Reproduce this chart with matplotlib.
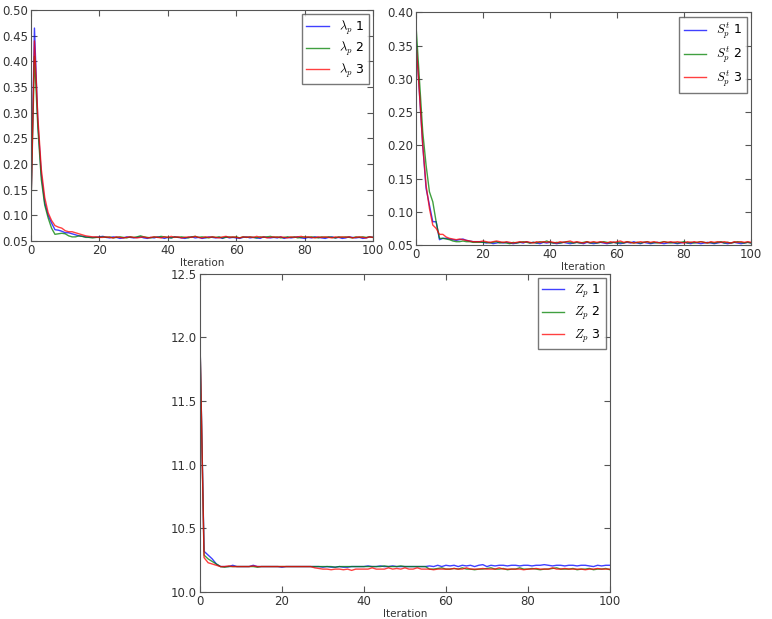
import matplotlib
matplotlib.use('Agg')
from matplotlib import pyplot as plt
import numpy as np

plt.rcParams['mathtext.fontset'] = 'cm'
plt.rcParams['font.family'] = 'DejaVu Sans'

iterations = list(range(101))

# lambda_p
lam_1 = [0.120, 0.465, 0.280, 0.180, 0.125, 0.100, 0.085, 0.072, 0.071, 0.069, 0.066,
         0.066, 0.064, 0.062, 0.060, 0.059, 0.058, 0.057, 0.057, 0.057, 0.058,
         0.059, 0.057, 0.056, 0.058, 0.057, 0.055, 0.056, 0.058, 0.057, 0.056,
         0.057, 0.058, 0.056, 0.055, 0.057, 0.056, 0.058, 0.057, 0.055, 0.057,
         0.056, 0.058, 0.057, 0.056, 0.055, 0.057, 0.058, 0.056, 0.057, 0.055,
         0.056, 0.058, 0.057, 0.056, 0.057, 0.055, 0.058, 0.056, 0.057, 0.056,
         0.055, 0.057, 0.058, 0.056, 0.057, 0.056, 0.055, 0.058, 0.057, 0.056,
         0.057, 0.056, 0.058, 0.055, 0.057, 0.056, 0.057, 0.058, 0.056, 0.055,
         0.057, 0.056, 0.058, 0.057, 0.056, 0.055, 0.057, 0.058, 0.056, 0.057,
         0.055, 0.056, 0.058, 0.057, 0.056, 0.057, 0.055, 0.056, 0.058, 0.057]
lam_2 = [0.120, 0.410, 0.270, 0.170, 0.120, 0.095, 0.075, 0.063, 0.064, 0.065, 0.064,
         0.060, 0.058, 0.058, 0.060, 0.059, 0.057, 0.057, 0.056, 0.057, 0.057,
         0.058, 0.057, 0.058, 0.056, 0.057, 0.058, 0.057, 0.056, 0.058, 0.057,
         0.058, 0.060, 0.058, 0.057, 0.056, 0.058, 0.057, 0.059, 0.058, 0.057,
         0.056, 0.058, 0.057, 0.058, 0.057, 0.056, 0.058, 0.059, 0.057, 0.058,
         0.057, 0.056, 0.058, 0.057, 0.058, 0.056, 0.057, 0.058, 0.057, 0.058,
         0.056, 0.058, 0.057, 0.058, 0.057, 0.056, 0.058, 0.057, 0.058, 0.059,
         0.057, 0.058, 0.056, 0.057, 0.058, 0.057, 0.058, 0.056, 0.057, 0.058,
         0.057, 0.058, 0.057, 0.056, 0.058, 0.057, 0.058, 0.057, 0.056, 0.058,
         0.057, 0.058, 0.057, 0.056, 0.058, 0.057, 0.058, 0.057, 0.058, 0.057]
lam_3 = [0.120, 0.440, 0.290, 0.190, 0.135, 0.105, 0.090, 0.080, 0.077, 0.075, 0.070,
         0.068, 0.068, 0.066, 0.064, 0.062, 0.060, 0.059, 0.058, 0.058, 0.057,
         0.057, 0.058, 0.057, 0.056, 0.058, 0.057, 0.056, 0.057, 0.058, 0.057,
         0.056, 0.057, 0.058, 0.056, 0.057, 0.058, 0.057, 0.056, 0.058, 0.057,
         0.059, 0.057, 0.058, 0.056, 0.057, 0.058, 0.057, 0.059, 0.057, 0.056,
         0.058, 0.057, 0.058, 0.057, 0.056, 0.058, 0.059, 0.057, 0.058, 0.057,
         0.056, 0.058, 0.057, 0.058, 0.057, 0.059, 0.057, 0.058, 0.056, 0.057,
         0.058, 0.057, 0.058, 0.057, 0.056, 0.058, 0.057, 0.058, 0.059, 0.057,
         0.058, 0.057, 0.056, 0.058, 0.057, 0.058, 0.057, 0.056, 0.058, 0.057,
         0.058, 0.057, 0.058, 0.056, 0.057, 0.058, 0.057, 0.056, 0.058, 0.057]

# S_p^t
s_1 = [0.360, 0.280, 0.200, 0.135, 0.110, 0.085, 0.085, 0.058, 0.060, 0.060, 0.059,
       0.058, 0.057, 0.058, 0.059, 0.057, 0.056, 0.055, 0.055, 0.055, 0.054,
       0.053, 0.054, 0.052, 0.053, 0.054, 0.053, 0.054, 0.053, 0.052, 0.053,
       0.054, 0.053, 0.055, 0.053, 0.054, 0.053, 0.052, 0.054, 0.053, 0.054,
       0.053, 0.052, 0.053, 0.054, 0.053, 0.052, 0.053, 0.054, 0.053, 0.052,
       0.054, 0.053, 0.052, 0.053, 0.054, 0.053, 0.052, 0.053, 0.054, 0.053,
       0.052, 0.053, 0.054, 0.053, 0.055, 0.053, 0.052, 0.054, 0.053, 0.052,
       0.053, 0.054, 0.053, 0.052, 0.053, 0.054, 0.053, 0.052, 0.053, 0.054,
       0.053, 0.052, 0.054, 0.053, 0.052, 0.053, 0.054, 0.053, 0.052, 0.053,
       0.054, 0.053, 0.052, 0.053, 0.054, 0.053, 0.052, 0.053, 0.054, 0.053]
s_2 = [0.380, 0.300, 0.220, 0.170, 0.130, 0.115, 0.085, 0.060, 0.060, 0.059, 0.058,
       0.056, 0.055, 0.055, 0.056, 0.055, 0.055, 0.054, 0.054, 0.054, 0.054,
       0.054, 0.053, 0.054, 0.055, 0.053, 0.054, 0.053, 0.052, 0.054, 0.053,
       0.054, 0.055, 0.054, 0.053, 0.054, 0.053, 0.055, 0.054, 0.056, 0.054,
       0.053, 0.054, 0.053, 0.054, 0.055, 0.054, 0.053, 0.054, 0.053, 0.054,
       0.055, 0.053, 0.054, 0.053, 0.054, 0.055, 0.054, 0.053, 0.054, 0.053,
       0.054, 0.053, 0.055, 0.054, 0.053, 0.054, 0.053, 0.054, 0.055, 0.053,
       0.054, 0.053, 0.054, 0.055, 0.054, 0.053, 0.054, 0.053, 0.054, 0.055,
       0.053, 0.054, 0.053, 0.054, 0.055, 0.054, 0.053, 0.054, 0.053, 0.054,
       0.055, 0.053, 0.054, 0.053, 0.054, 0.055, 0.054, 0.053, 0.054, 0.053]
s_3 = [0.355, 0.280, 0.200, 0.140, 0.105, 0.080, 0.075, 0.066, 0.066, 0.062, 0.060,
       0.059, 0.058, 0.059, 0.058, 0.057, 0.056, 0.055, 0.055, 0.055, 0.056,
       0.055, 0.054, 0.055, 0.056, 0.055, 0.054, 0.055, 0.054, 0.053, 0.054,
       0.055, 0.054, 0.055, 0.054, 0.053, 0.055, 0.054, 0.055, 0.054, 0.055,
       0.054, 0.053, 0.055, 0.054, 0.055, 0.056, 0.054, 0.055, 0.054, 0.053,
       0.055, 0.054, 0.055, 0.054, 0.055, 0.054, 0.053, 0.055, 0.054, 0.055,
       0.056, 0.054, 0.055, 0.054, 0.053, 0.054, 0.055, 0.054, 0.055, 0.054,
       0.055, 0.054, 0.053, 0.055, 0.054, 0.055, 0.054, 0.055, 0.054, 0.053,
       0.055, 0.054, 0.055, 0.054, 0.055, 0.054, 0.053, 0.055, 0.054, 0.055,
       0.054, 0.055, 0.054, 0.053, 0.055, 0.054, 0.055, 0.054, 0.055, 0.054]

# Z_p
z_1 = [12.00, 10.32, 10.29, 10.26, 10.22, 10.20, 10.20, 10.20, 10.21, 10.20, 10.20,
       10.20, 10.20, 10.21, 10.20, 10.20, 10.20, 10.20, 10.20, 10.20, 10.195,
       10.20, 10.20, 10.20, 10.20, 10.20, 10.20, 10.20, 10.20, 10.20, 10.195,
       10.20, 10.195, 10.195, 10.20, 10.195, 10.195, 10.20, 10.20, 10.20, 10.20,
       10.205, 10.20, 10.20, 10.205, 10.20, 10.20, 10.205, 10.20, 10.20, 10.20,
       10.20, 10.20, 10.20, 10.20, 10.20, 10.205, 10.20, 10.21, 10.20, 10.21,
       10.205, 10.21, 10.20, 10.21, 10.205, 10.21, 10.20, 10.21, 10.215, 10.20,
       10.21, 10.205, 10.21, 10.21, 10.205, 10.21, 10.21, 10.205, 10.21, 10.21,
       10.205, 10.21, 10.21, 10.215, 10.21, 10.205, 10.21, 10.21, 10.205, 10.21,
       10.21, 10.205, 10.21, 10.21, 10.205, 10.20, 10.21, 10.205, 10.21, 10.21]
z_2 = [12.00, 10.29, 10.26, 10.24, 10.22, 10.20, 10.195, 10.20, 10.20, 10.20, 10.20,
       10.20, 10.20, 10.20, 10.195, 10.20, 10.20, 10.20, 10.20, 10.20, 10.20,
       10.20, 10.20, 10.20, 10.20, 10.20, 10.20, 10.20, 10.20, 10.20, 10.20,
       10.20, 10.20, 10.195, 10.20, 10.20, 10.20, 10.20, 10.20, 10.20, 10.20,
       10.20, 10.20, 10.20, 10.20, 10.205, 10.20, 10.20, 10.20, 10.205, 10.20,
       10.20, 10.20, 10.20, 10.20, 10.20, 10.18, 10.18, 10.185, 10.19, 10.18,
       10.18, 10.185, 10.18, 10.19, 10.18, 10.18, 10.175, 10.18, 10.18, 10.185,
       10.19, 10.18, 10.18, 10.185, 10.175, 10.18, 10.18, 10.19, 10.18, 10.18,
       10.185, 10.18, 10.175, 10.18, 10.18, 10.185, 10.19, 10.18, 10.18, 10.18,
       10.185, 10.175, 10.18, 10.18, 10.185, 10.175, 10.18, 10.18, 10.185, 10.175]
z_3 = [12.00, 10.27, 10.23, 10.22, 10.21, 10.20, 10.20, 10.205, 10.20, 10.20, 10.20,
       10.20, 10.20, 10.205, 10.20, 10.20, 10.20, 10.20, 10.20, 10.20, 10.20,
       10.20, 10.20, 10.20, 10.20, 10.20, 10.20, 10.20, 10.19, 10.185, 10.18,
       10.18, 10.175, 10.18, 10.18, 10.175, 10.18, 10.17, 10.18, 10.18, 10.18,
       10.18, 10.19, 10.18, 10.18, 10.18, 10.19, 10.18, 10.185, 10.18, 10.19,
       10.18, 10.18, 10.19, 10.18, 10.18, 10.18, 10.175, 10.18, 10.18, 10.18,
       10.18, 10.185, 10.18, 10.18, 10.19, 10.18, 10.18, 10.18, 10.185, 10.18,
       10.18, 10.18, 10.19, 10.18, 10.18, 10.18, 10.18, 10.18, 10.175, 10.18,
       10.18, 10.185, 10.18, 10.18, 10.18, 10.19, 10.18, 10.18, 10.185, 10.18,
       10.18, 10.18, 10.18, 10.175, 10.18, 10.18, 10.185, 10.18, 10.18, 10.18]

colors = ['#0000ff', '#008000', '#ff0000']
panels = [
    ([lam_1, lam_2, lam_3], r'$\lambda_p$', [0.0402, 0.6107, 0.443, 0.373], (0.05, 0.50),
     np.arange(0.05, 0.501, 0.05), '%.2f', 0.28),
    ([s_1, s_2, s_3], r'$S_p^t$', [0.5389, 0.6042, 0.434, 0.376], (0.05, 0.40),
     np.arange(0.05, 0.401, 0.05), '%.2f', 0.3),
    ([z_1, z_2, z_3], r'$Z_p$', [0.259, 0.0436, 0.531, 0.514], (10.0, 12.5),
     np.arange(10.0, 12.51, 0.5), '%.1f', 0.45),
]

fig = plt.figure(figsize=(7.72, 6.19), dpi=100)
for series, name, rect, ylim, yticks, fmt, spacing in panels:
    ax = fig.add_axes(rect)
    for i, ys in enumerate(series):
        assert len(ys) == len(iterations)
        ax.plot(iterations, ys, color=colors[i], lw=1.0, alpha=0.75, label=name + ' ' + str(i + 1))
    ax.set_xlim(0, 100)
    ax.set_ylim(*ylim)
    ax.set_xticks([0, 20, 40, 60, 80, 100])
    ax.set_yticks(yticks)
    ax.set_yticklabels([fmt % v for v in yticks])
    ax.tick_params(direction='in', top=True, right=True, labelsize=8.5, length=4,
                   color='#555555', labelcolor='#333333', pad=2)
    for sp in ax.spines.values():
        sp.set_color('#555555')
    ax.set_xlabel('Iteration', fontsize=7.5, color='#333333', labelpad=1)
    leg = ax.legend(loc='upper right', fontsize=9, fancybox=False, handlelength=1.8,
                    borderaxespad=0.35, labelspacing=spacing, borderpad=0.35)
    leg.get_frame().set_edgecolor('#555555')
    leg.get_frame().set_linewidth(1.0)

fig.savefig('out.png', dpi=100, facecolor='white')
